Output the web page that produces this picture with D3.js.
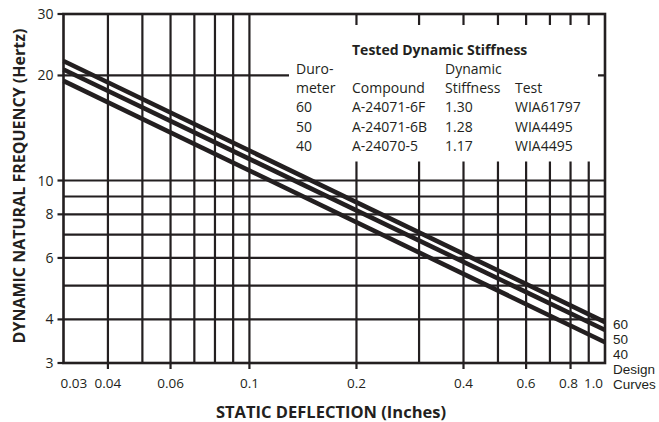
<!DOCTYPE html>
<html><head><meta charset="utf-8">
<script src="https://cdn.jsdelivr.net/npm/d3@7/dist/d3.min.js"></script>
<style>
html,body{margin:0;padding:0;background:#fff;}
svg{display:block;}
text{font-family:"Open Sans","Noto Sans",sans-serif;fill:#231f20;}
text.cl{font-family:"Liberation Sans",Arial,sans-serif;}
</style></head><body>
<script>
// ---- data ----
const xDomain = [0.03, 1.0];
const yDomain = [3, 30];
const xGrid = [0.04,0.05,0.06,0.07,0.08,0.09,0.1,0.2,0.3,0.4,0.5,0.6,0.7,0.8,0.9];
const yGrid = [4,5,6,7,8,9,10,20];
const xTicks = [0.03,0.04,0.06,0.1,0.2,0.4,0.6,0.8,1.0];
const xTickLabels = ["0.03","0.04","0.06","0.1","0.2","0.4","0.6","0.8","1.0"];
const yTicks = [3,4,6,8,10,20,30];
const yTickLabels = ["3","4","6","8","10","20","30"];
const curveNames = ["60","50","40"];
const curveDeflection = [0.03, 1.0];
const freq60 = [22.0, 3.93];
const freq50 = [20.8, 3.73];
const freq40 = [19.3, 3.44];
const tableTitle = "Tested Dynamic Stiffness";
const headerRow1 = ["Duro-","","Dynamic",""];
const headerRow2 = ["meter","Compound","Stiffness","Test"];
const durometer = ["60","50","40"];
const compound = ["A-24071-6F","A-24071-6B","A-24070-5"];
const stiffness = ["1.30","1.28","1.17"];
const testId = ["WIA61797","WIA4495","WIA4495"];
const xTitle = "STATIC DEFLECTION (Inches)";
const yTitle = "DYNAMIC NATURAL FREQUENCY (Hertz)";
const curveLabelExtra = ["Design","Curves"];

// ---- layout ----
const W = 659, H = 422;
const L = 63.5, R = 605, T = 14, B = 363;
const ink = "#231f20";
const svg = d3.select("body").append("svg").attr("width", W).attr("height", H);
const x = d3.scaleLog().domain(xDomain).range([L, R]);
const y = d3.scaleLog().domain(yDomain).range([B, T]);

const g = svg.append("g");
// grid
g.selectAll(".vg").data(xGrid).enter().append("line")
  .attr("x1", d => x(d)).attr("x2", d => x(d)).attr("y1", T).attr("y2", B)
  .attr("stroke", ink).attr("stroke-width", 2.2);
g.selectAll(".hg").data(yGrid).enter().append("line")
  .attr("x1", L).attr("x2", R).attr("y1", d => y(d)).attr("y2", d => y(d))
  .attr("stroke", ink).attr("stroke-width", 2.2);
// table mask
g.append("rect").attr("x", 289).attr("y", 25).attr("width", 598 - 289).attr("height", 161.5 - 25).attr("fill", "#fff");
// frame
g.append("rect").attr("x", L).attr("y", T).attr("width", R - L).attr("height", B - T)
  .attr("fill", "none").attr("stroke", ink).attr("stroke-width", 2.6);

// ticks
g.selectAll(".xt").data(xTicks.filter((d,i) => i > 0 && i < xTicks.length - 1)).enter().append("line")
  .attr("x1", d => x(d)).attr("x2", d => x(d)).attr("y1", B).attr("y2", B + 6)
  .attr("stroke", ink).attr("stroke-width", 2.2);
g.selectAll(".yt").data(yTicks).enter().append("line")
  .attr("x1", L - 6).attr("x2", L).attr("y1", d => y(d)).attr("y2", d => y(d))
  .attr("stroke", ink).attr("stroke-width", 2.2);

// tick labels
g.selectAll(".xl").data(xTicks).enter().append("text")
  .attr("x", (d,i) => x(d) + (i === 0 ? -3 : (i === xTicks.length - 1 ? -2 : (i === xTicks.length - 2 ? -2 : 0))))
  .attr("y", 388)
  .attr("text-anchor", (d,i) => i === 0 ? "start" : (i === xTicks.length - 1 ? "end" : "middle"))
  .attr("font-size", 13.5).text((d,i) => xTickLabels[i]);
g.selectAll(".yl").data(yTicks).enter().append("text")
  .attr("x", L - 10).attr("y", d => y(d) + 5)
  .attr("text-anchor", "end").attr("font-size", 14).text((d,i) => yTickLabels[i]);

// curves
const line = d3.line().x(d => x(d[0])).y(d => y(d[1]));
[freq60, freq50, freq40].forEach(f => {
  g.append("path").attr("d", line(curveDeflection.map((dx, i) => [dx, f[i]])))
    .attr("fill", "none").attr("stroke", ink).attr("stroke-width", 4.6);
});

// curve labels
const rl = curveNames.concat(curveLabelExtra);
g.selectAll("text.cl").data(rl).enter().append("text").attr("class", "cl")
  .attr("x", 613).attr("y", (d,i) => 328.5 + i * 15.2)
  .attr("font-size", 13.5).text(d => d);

// table
const colX = [296, 352, 445, 515];
g.append("text").attr("x", 352).attr("y", 55).attr("font-size", 14).attr("font-weight", "bold").text(tableTitle);
const rows = [headerRow1, headerRow2].concat(durometer.map((d,i) => [d, compound[i], stiffness[i], testId[i]]));
rows.forEach((r, ri) => {
  r.forEach((t, ci) => {
    if (!t) return;
    g.append("text").attr("x", colX[ci]).attr("y", 74 + ri * 19.2).attr("font-size", 14).text(t);
  });
});

// axis titles
svg.append("text").attr("x", 331).attr("y", 418).attr("text-anchor", "middle")
  .attr("font-size", 16.5).attr("font-weight", "bold").text(xTitle);
svg.append("text").attr("transform", "translate(25,186) rotate(-90)").attr("text-anchor", "middle")
  .attr("font-size", 16).attr("font-weight", "bold").text(yTitle);
</script>
</body></html>
